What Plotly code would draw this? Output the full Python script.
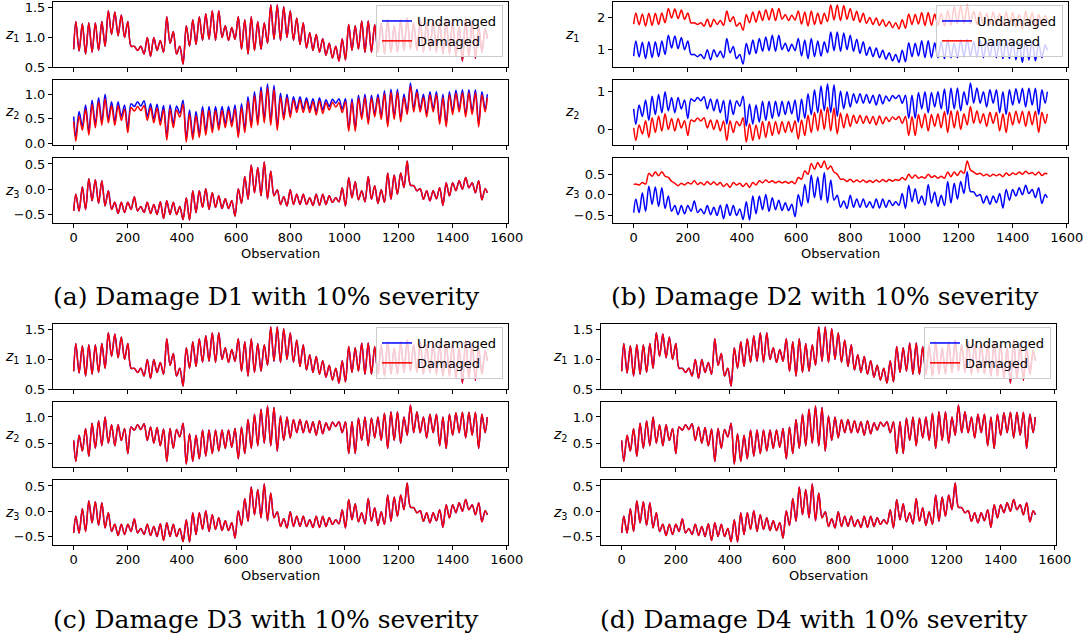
import plotly.graph_objects as go

# ---------------- data ----------------
# observation index of every stored sample (peaks / troughs, ~12 obs apart)
OBS = [0] + [8 + 12 * j for j in range(127)] + [1528]

U1 = [0.80,
      1.27, 0.77, 1.23, 0.72, 1.25, 0.75, 1.25, 0.78, 1.27, 0.85,
      1.45, 1.05, 1.43, 1.03, 1.38, 1.00, 1.27, 0.85, 0.85, 0.78,
      0.85, 0.72, 1.00, 0.68, 1.00, 0.78, 0.95, 0.75, 1.35, 0.90,
      1.10, 0.72, 0.85, 0.55, 1.20, 0.85, 1.30, 0.88, 1.35, 0.95,
      1.40, 0.97, 1.45, 0.95, 1.45, 1.00, 1.20, 0.95, 1.17, 0.97,
      1.35, 0.80, 1.30, 0.72, 1.35, 0.78, 1.27, 0.80, 1.25, 0.90,
      1.55, 0.97, 1.55, 0.95, 1.52, 1.00, 1.45, 0.95, 1.33, 0.88,
      1.25, 0.82, 1.08, 0.78, 1.05, 0.75, 0.98, 0.70, 0.90, 0.65,
      0.85, 0.60, 0.98, 0.62, 1.22, 0.78, 1.20, 0.80, 1.28, 0.75,
      1.28, 0.75, 1.22, 0.75, 1.25, 0.72, 1.30, 0.75, 1.20, 0.75,
      1.30, 0.78, 1.33, 0.80, 1.25, 0.78, 1.30, 0.75, 1.25, 0.78,
      1.30, 0.75, 1.25, 0.72, 1.30, 0.72, 1.28, 0.68, 1.20, 0.60,
      1.33, 0.68, 1.28, 0.65, 1.20, 0.75,
      1.15, 0.98]

U2 = [0.55,
      0.15, 0.65, 0.35, 0.78, 0.25, 0.88, 0.40, 0.93, 0.45, 1.00,
      0.50, 0.85, 0.45, 0.85, 0.55, 0.78, 0.30, 0.81, 0.75, 0.85,
      0.76, 0.87, 0.55, 0.81, 0.50, 0.80, 0.45, 0.77, 0.15, 0.78,
      0.40, 0.76, 0.62, 0.88, 0.10, 0.68, 0.15, 0.65, 0.20, 0.75,
      0.25, 0.75, 0.30, 0.75, 0.35, 0.75, 0.40, 0.75, 0.42, 0.78,
      0.20, 0.81, 0.30, 0.95, 0.40, 1.05, 0.45, 1.15, 0.50, 1.21,
      0.45, 1.18, 0.35, 1.02, 0.55, 1.00, 0.60, 0.95, 0.70, 0.95,
      0.70, 0.93, 0.70, 0.91, 0.65, 0.93, 0.68, 0.89, 0.75, 0.90,
      0.82, 0.91, 0.70, 0.91, 0.30, 0.91, 0.30, 0.98, 0.55, 1.00,
      0.45, 0.98, 0.60, 1.00, 0.55, 1.07, 0.40, 1.10, 0.55, 1.10,
      0.50, 1.00, 0.65, 1.23, 0.70, 1.10, 0.70, 1.00, 0.60, 1.05,
      0.70, 1.05, 0.45, 1.00, 0.40, 1.05, 0.65, 1.08, 0.70, 1.09,
      0.60, 1.09, 0.65, 1.09, 0.40, 1.05,
      0.70, 1.00]

U3 = [-0.43,
      -0.10, -0.43, 0.05, -0.40, 0.21, -0.23, 0.19, -0.28, 0.17, -0.33,
      -0.03, -0.40, -0.26, -0.48, -0.26, -0.46, -0.26, -0.40, -0.15, -0.43,
      -0.34, -0.46, -0.26, -0.48, -0.30, -0.50, -0.25, -0.58, -0.23, -0.50,
      -0.26, -0.50, -0.34, -0.60, -0.17, -0.61, -0.03, -0.46, -0.03, -0.36,
      0.01, -0.40, -0.07, -0.36, -0.13, -0.38, -0.19, -0.38, -0.23, -0.53,
      0.01, -0.28, 0.25, -0.20, 0.48, -0.07, 0.43, -0.13, 0.54, -0.19,
      0.36, -0.13, -0.01, -0.30, -0.15, -0.33, -0.01, -0.30, -0.10, -0.30,
      -0.10, -0.30, -0.17, -0.32, -0.10, -0.32, -0.10, -0.30, -0.13, -0.26,
      -0.17, -0.25, 0.03, -0.33, 0.23, -0.17, 0.15, -0.21, -0.03, -0.25,
      0.25, -0.20, 0.07, -0.28, -0.01, -0.26, 0.32, -0.20, 0.28, -0.10,
      0.32, 0.03, 0.56, 0.08, 0.07, -0.03, 0.01, -0.20, -0.03, -0.23,
      -0.03, -0.19, 0.03, -0.32, 0.13, -0.13, 0.13, -0.03, 0.17, 0.00,
      0.23, 0.03, 0.13, -0.07, 0.17, -0.21,
      0.01, -0.07]

# damaged, D1 (z2 shows a visible shift)
D1_Z2 = [0.45,
         0.05, 0.56, 0.27, 0.70, 0.17, 0.80, 0.32, 0.85, 0.37, 0.91,
         0.42, 0.77, 0.37, 0.77, 0.47, 0.70, 0.22, 0.73, 0.66, 0.75,
         0.67, 0.77, 0.47, 0.73, 0.42, 0.72, 0.37, 0.69, 0.07, 0.70,
         0.32, 0.68, 0.54, 0.79, 0.03, 0.60, 0.08, 0.57, 0.12, 0.67,
         0.17, 0.67, 0.22, 0.67, 0.27, 0.67, 0.32, 0.67, 0.34, 0.70,
         0.12, 0.73, 0.22, 0.87, 0.32, 0.97, 0.37, 1.07, 0.42, 1.13,
         0.37, 1.10, 0.27, 0.94, 0.48, 0.93, 0.53, 0.89, 0.63, 0.89,
         0.63, 0.87, 0.63, 0.85, 0.58, 0.87, 0.61, 0.83, 0.68, 0.84,
         0.74, 0.83, 0.63, 0.85, 0.25, 0.85, 0.25, 0.92, 0.49, 0.94,
         0.39, 0.92, 0.54, 0.94, 0.49, 1.01, 0.34, 1.04, 0.49, 1.04,
         0.44, 0.94, 0.59, 1.17, 0.64, 1.04, 0.64, 0.94, 0.54, 0.99,
         0.64, 0.99, 0.39, 0.94, 0.34, 0.99, 0.59, 1.02, 0.64, 1.03,
         0.54, 1.03, 0.59, 1.03, 0.34, 0.99,
         0.64, 0.93]

# damaged, D2 (all three outputs shifted)
D2_Z1 = [1.80,
         2.15, 1.78, 2.12, 1.74, 2.14, 1.76, 2.14, 1.79, 2.15, 1.84,
         2.29, 1.99, 2.27, 1.97, 2.24, 1.95, 2.15, 1.84, 1.84, 1.79,
         1.84, 1.74, 1.95, 1.71, 1.95, 1.79, 1.91, 1.76, 2.21, 1.88,
         2.03, 1.74, 1.84, 1.61, 2.10, 1.84, 2.18, 1.86, 2.21, 1.91,
         2.25, 1.93, 2.29, 1.91, 2.29, 1.95, 2.10, 1.91, 2.08, 1.93,
         2.21, 1.80, 2.18, 1.74, 2.21, 1.79, 2.15, 1.80, 2.14, 1.88,
         2.40, 1.93, 2.40, 1.91, 2.38, 1.95, 2.29, 1.91, 2.20, 1.86,
         2.14, 1.82, 2.01, 1.79, 1.99, 1.76, 1.94, 1.73, 1.88, 1.69,
         1.84, 1.65, 1.94, 1.67, 2.12, 1.79, 2.10, 1.80, 2.16, 1.76,
         2.16, 1.76, 2.12, 1.76, 2.14, 1.74, 2.22, 1.76, 2.35, 1.80,
         2.38, 1.82, 2.40, 1.80, 2.20, 1.79, 2.18, 1.76, 2.14, 1.79,
         2.18, 1.76, 2.14, 1.74, 2.18, 1.74, 2.16, 1.71, 2.10, 1.65,
         2.20, 1.71, 2.16, 1.69, 2.10, 1.76,
         2.06, 1.94]

D2_Z2 = [0.05,
         -0.28, 0.13, -0.11, 0.24, -0.20, 0.32, -0.07, 0.36, -0.03, 0.42,
         0.01, 0.30, -0.03, 0.30, 0.05, 0.24, -0.15, 0.26, 0.22, 0.31,
         0.23, 0.32, 0.05, 0.26, 0.01, 0.26, -0.03, 0.23, -0.28, 0.24,
         -0.07, 0.22, 0.11, 0.32, -0.32, 0.16, -0.28, 0.13, -0.24, 0.22,
         -0.20, 0.22, -0.15, 0.22, -0.11, 0.22, -0.07, 0.22, -0.06, 0.24,
         -0.24, 0.26, -0.15, 0.38, -0.07, 0.46, -0.03, 0.54, 0.01, 0.59,
         -0.03, 0.57, -0.11, 0.44, 0.05, 0.42, 0.09, 0.38, 0.17, 0.38,
         0.17, 0.36, 0.17, 0.35, 0.13, 0.36, 0.16, 0.33, 0.22, 0.34,
         0.27, 0.35, 0.17, 0.35, -0.15, 0.35, -0.15, 0.40, 0.05, 0.42,
         -0.03, 0.40, 0.09, 0.42, 0.05, 0.48, -0.07, 0.50, 0.05, 0.50,
         0.01, 0.42, 0.13, 0.61, 0.17, 0.50, 0.17, 0.42, 0.09, 0.46,
         0.17, 0.46, -0.03, 0.42, -0.07, 0.46, 0.13, 0.49, 0.17, 0.49,
         0.09, 0.49, 0.13, 0.49, -0.07, 0.46,
         0.17, 0.42]

D2_Z3 = [0.25,
         0.26, 0.24, 0.30, 0.26, 0.52, 0.45, 0.55, 0.46, 0.56, 0.45,
         0.42, 0.33, 0.28, 0.22, 0.28, 0.24, 0.30, 0.26, 0.34, 0.25,
         0.30, 0.24, 0.32, 0.25, 0.31, 0.24, 0.30, 0.20, 0.27, 0.18,
         0.30, 0.24, 0.28, 0.20, 0.28, 0.18, 0.30, 0.24, 0.34, 0.29,
         0.36, 0.30, 0.34, 0.29, 0.33, 0.29, 0.32, 0.28, 0.32, 0.27,
         0.42, 0.38, 0.58, 0.50, 0.76, 0.62, 0.78, 0.66, 0.82, 0.62,
         0.70, 0.55, 0.50, 0.38, 0.38, 0.32, 0.38, 0.31, 0.36, 0.31,
         0.36, 0.30, 0.35, 0.30, 0.36, 0.31, 0.37, 0.32, 0.37, 0.33,
         0.37, 0.35, 0.42, 0.36, 0.50, 0.40, 0.48, 0.40, 0.44, 0.40,
         0.50, 0.42, 0.46, 0.40, 0.45, 0.40, 0.55, 0.44, 0.55, 0.47,
         0.58, 0.52, 0.82, 0.60, 0.55, 0.50, 0.52, 0.46, 0.50, 0.45,
         0.50, 0.46, 0.50, 0.44, 0.53, 0.47, 0.53, 0.49, 0.55, 0.50,
         0.57, 0.51, 0.54, 0.48, 0.55, 0.47,
         0.52, 0.50]

CAPTIONS = ["(a) Damage D1 with 10% severity", "(b) Damage D2 with 10% severity",
            "(c) Damage D3 with 10% severity", "(d) Damage D4 with 10% severity"]
UNDAMAGED = [U1, U2, U3]
DAMAGED = [[U1, D1_Z2, U3], [D2_Z1, D2_Z2, D2_Z3], [U1, U2, U3], [U1, U2, U3]]
YLABELS = ["<i>z</i><sub>1</sub>", "<i>z</i><sub>2</sub>", "<i>z</i><sub>3</sub>"]
XTICKS = [0, 200, 400, 600, 800, 1000, 1200, 1400, 1600]

# ---------------- layout geometry (pixels) ----------------
W, H = 1089, 641
PANEL_X = [(53, 508), (613, 1068), (53, 508), (601, 1056)]
PANEL_DY = [0, 0, 322, 322]
SUB_Y = [(2, 67), (80, 145), (158, 223)]
YLAB_X = [12, 572, 12, 560]
CAP_X = [266, 825, 266, 814]
YDTICK = [[0.5, 0.5, 0.5], [1, 1, 0.5], [0.5, 0.5, 0.5], [0.5, 0.5, 0.5]]
YFMT = [[".1f", ".1f", ".1f"], ["d", "d", ".1f"], [".1f", ".1f", ".1f"], [".1f", ".1f", ".1f"]]
XR = [-76.4, 1604.4]

FONT = "DejaVu Sans"
fig = go.Figure()
layout = dict(width=W, height=H, margin=dict(l=0, r=0, t=0, b=0, autoexpand=False),
              paper_bgcolor="white", plot_bgcolor="white",
              font=dict(family=FONT, size=13, color="black"))
annotations = []

k = 0
for p in range(4):
    x0, x1 = PANEL_X[p]
    dy = PANEL_DY[p]
    legname = "legend" if p == 0 else f"legend{p + 1}"
    for s in range(3):
        k += 1
        sfx = "" if k == 1 else str(k)
        u = UNDAMAGED[s]
        d = DAMAGED[p][s]
        lo = min(min(u), min(d))
        hi = max(max(u), max(d))
        pad = 0.05 * (hi - lo)
        t, b = SUB_Y[s]
        t += dy
        b += dy
        layout["xaxis" + sfx] = dict(
            domain=[x0 / W, x1 / W], anchor="y" + sfx, range=XR,
            tickmode="array", tickvals=XTICKS, showticklabels=(s == 2),
            ticks="outside", ticklen=4, tickwidth=1, tickcolor="black",
            ticklabelstandoff=-2,
            showline=True, linecolor="black", linewidth=1, mirror=True,
            showgrid=False, zeroline=False, tickfont=dict(size=13))
        layout["yaxis" + sfx] = dict(
            domain=[1 - b / H, 1 - t / H], anchor="x" + sfx,
            range=[lo - pad, hi + pad], dtick=YDTICK[p][s], tick0=0,
            tickformat=YFMT[p][s],
            ticks="outside", ticklen=4, tickwidth=1, tickcolor="black",
            showline=True, linecolor="black", linewidth=1, mirror=True,
            showgrid=False, zeroline=False, tickfont=dict(size=13))
        fig.add_trace(go.Scatter(x=OBS, y=u, mode="lines", name="Undamaged",
                                 line=dict(color="blue", width=1.5, shape="spline", smoothing=0.9),
                                 xaxis="x" + sfx, yaxis="y" + sfx,
                                 legend=legname, showlegend=(s == 0)))
        fig.add_trace(go.Scatter(x=OBS, y=d, mode="lines", name="Damaged",
                                 line=dict(color="red", width=1.5, shape="spline", smoothing=0.9),
                                 xaxis="x" + sfx, yaxis="y" + sfx,
                                 legend=legname, showlegend=(s == 0)))
        annotations.append(dict(text=YLABELS[s], x=YLAB_X[p] / W, y=1 - (t + b) / 2 / H,
                                xref="paper", yref="paper", showarrow=False,
                                xanchor="center", yanchor="middle",
                                font=dict(family=FONT, size=14)))
    # legend inside z1 (upper right)
    layout[legname] = dict(x=(x1 - 5) / W, y=1 - (5 + dy) / H, xanchor="right", yanchor="top",
                           bgcolor="rgba(255,255,255,0.8)", bordercolor="#cccccc", borderwidth=1,
                           font=dict(family=FONT, size=13), itemwidth=30, tracegroupgap=0)
    annotations.append(dict(text="Observation", x=(x0 + x1) / 2 / W, y=1 - (253 + dy) / H,
                            xref="paper", yref="paper", showarrow=False,
                            xanchor="center", yanchor="middle", font=dict(family=FONT, size=13)))
    annotations.append(dict(text=CAPTIONS[p], x=CAP_X[p] / W, y=1 - (297 + dy) / H,
                            xref="paper", yref="paper", showarrow=False,
                            xanchor="center", yanchor="middle",
                            font=dict(family="DejaVu Serif", size=25)))

layout["annotations"] = annotations
fig.update_layout(**layout)
fig.write_html("out.html")
